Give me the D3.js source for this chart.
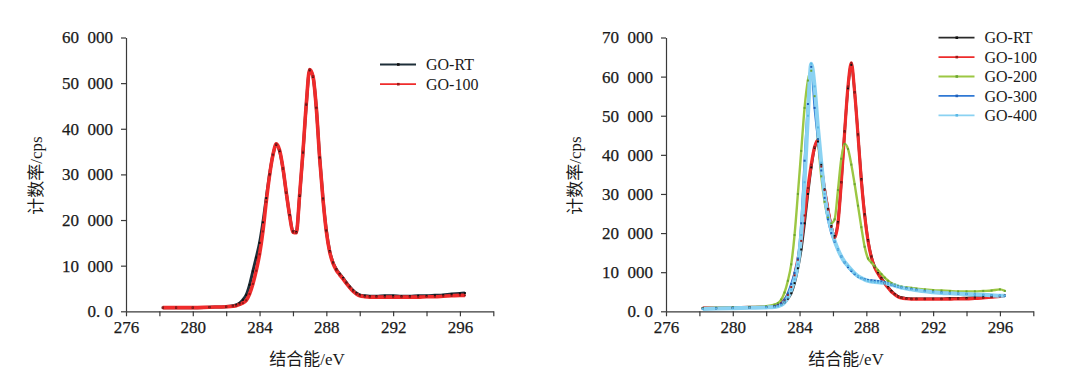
<!DOCTYPE html>
<html>
<head>
  <meta charset="UTF-8">
  <title>XPS C1s</title>
  <style>
    body { margin: 0; background: #fff; }
    text { font-family: "Liberation Serif", "Noto Sans CJK SC", serif; fill: #1a1a1a; }
  </style>
</head>
<body>
<svg id="chart"></svg>
<script src="https://d3js.org/d3.v7.min.js"></script>
<script>

// binding energy grids (eV) and count rates (thousands of cps)
var leftEnergy = [278.2, 279, 280, 281, 282,
  282.4, 282.6, 282.8, 283.0, 283.2, 283.4, 283.6, 283.8, 284.0, 284.2, 284.4, 284.6, 284.8, 285.0, 285.2,
  285.4, 285.6, 285.8, 286.0, 286.2, 286.4, 286.6, 286.8, 287.0, 287.2, 287.4, 287.6, 287.8, 288.0, 288.2,
  288.4, 288.6, 288.8, 289.0, 289.2, 289.4, 289.6, 289.8, 290.0,
  290.3, 290.6, 291, 291.5, 292, 292.5, 293, 293.5, 294, 294.5, 295, 295.5, 296, 296.3]

var leftGoRT = [0.8, 0.8, 0.8, 0.9, 1.0,
  1.2, 1.4, 1.8, 2.5, 3.6, 5.8, 8.8, 11.8, 15.0, 19.5, 24.8, 30.0, 34.3, 36.5, 35.1,
  31.3, 26.0, 21.1, 17.5, 17.4, 25.3, 34.8, 45.3, 52.8, 51.4, 44.6, 33.7, 24.7, 17.7, 13.2,
  10.7, 9.2, 8.2, 7.3, 6.3, 5.4, 4.6, 4.0, 3.6,
  3.4, 3.3, 3.3, 3.4, 3.4, 3.3, 3.3, 3.4, 3.4, 3.5, 3.6, 3.8, 3.9, 4.0]

var leftGo100 = [0.8, 0.8, 0.8, 0.9, 1.0,
  1.1, 1.2, 1.5, 1.8, 2.4, 3.8, 6.0, 8.9, 12.5, 17.5, 24.0, 29.8, 34.2, 36.7, 35.3,
  31.4, 26.0, 21.0, 17.3, 17.2, 25.5, 35.0, 45.5, 53.0, 51.5, 44.5, 33.5, 24.5, 17.5, 13.0,
  10.5, 9.0, 8.0, 7.1, 6.1, 5.2, 4.4, 3.8, 3.4,
  3.2, 3.1, 3.1, 3.1, 3.1, 3.1, 3.1, 3.1, 3.2, 3.2, 3.3, 3.4, 3.5, 3.5]

var rightEnergy = [278.2, 279, 280, 281, 282,
  282.5, 282.7, 282.9, 283.1, 283.3, 283.5, 283.7, 283.9, 284.1, 284.3, 284.5, 284.7, 284.9, 285.1, 285.3,
  285.5, 285.7, 285.9, 286.1, 286.3, 286.5, 286.7, 286.9, 287.1, 287.3, 287.5, 287.7, 287.9, 288.1, 288.3,
  288.5, 288.7, 288.9, 289.1, 289.3, 289.5, 289.7, 289.9, 290.1,
  290.4, 290.7, 291, 291.5, 292, 292.5, 293, 293.5, 294, 294.5, 295, 295.5, 296, 296.3]

var rightGoRT = [0.8, 0.8, 0.9, 1.0, 1.1,
  1.3, 1.5, 1.8, 2.3, 3.2, 4.6, 7.2, 11.0, 15.8, 22.5, 30.0, 36.8, 41.8, 43.4, 37.5,
  31.2, 26.2, 21.8, 19.3, 22.8, 33.0, 46.0, 57.0, 63.0, 56.0, 45.2, 33.8, 24.8, 18.2, 14.0,
  11.4, 9.8, 8.5, 7.3, 6.2, 5.2, 4.4, 3.8, 3.5,
  3.3, 3.2, 3.2, 3.2, 3.2, 3.2, 3.3, 3.3, 3.4, 3.5, 3.6, 3.7, 3.9, 4.0]

var rightGo100 = [0.8, 0.8, 0.9, 1.0, 1.1,
  1.3, 1.6, 2.1, 2.9, 4.2, 6.2, 9.2, 13.2, 18.0, 24.5, 31.5, 37.5, 42.0, 43.8, 37.0,
  31.0, 26.0, 21.5, 18.8, 22.5, 33.0, 45.8, 57.5, 63.5, 56.0, 45.0, 33.5, 24.5, 18.0, 13.8,
  11.2, 9.6, 8.3, 7.1, 6.0, 5.0, 4.3, 3.7, 3.4,
  3.2, 3.1, 3.1, 3.1, 3.1, 3.1, 3.1, 3.2, 3.2, 3.3, 3.4, 3.6, 3.8, 4.0]

var rightGo200 = [0.8, 0.9, 1.0, 1.1, 1.3,
  1.7, 2.1, 3.0, 4.8, 7.8, 12.0, 19.5, 30.0, 41.0, 52.0, 59.0, 61.5, 55.0, 44.0, 34.5,
  28.0, 24.0, 22.5, 23.5, 31.0, 39.0, 42.8, 41.5, 37.5, 32.5, 27.0, 21.5, 16.5, 13.5, 12.5,
  11.5, 10.5, 9.5, 8.6, 7.8, 7.2, 6.8, 6.5, 6.3,
  6.1, 6.0, 5.8, 5.6, 5.4, 5.3, 5.2, 5.1, 5.1, 5.1, 5.2, 5.3, 5.6, 5.2]

var rightGo300 = [0.7, 0.8, 0.9, 1.0, 1.1,
  1.3, 1.5, 2.0, 3.0, 4.6, 7.0, 9.8, 13.5, 22.5, 38.5, 53.0, 62.5, 52.0, 44.0, 36.0,
  29.0, 23.5, 20.0, 17.8, 15.8, 14.0, 12.5, 11.3, 10.3, 9.5, 8.9, 8.5, 8.2, 8.0, 7.9,
  7.8, 7.7, 7.6, 7.4, 7.1, 6.8, 6.5, 6.3, 6.1,
  5.9, 5.7, 5.5, 5.2, 5.0, 4.8, 4.6, 4.5, 4.4, 4.3, 4.2, 4.1, 4.0, 4.0]

var rightGo400 = [0.6, 0.7, 0.8, 0.9, 1.0,
  1.1, 1.3, 1.6, 2.3, 3.5, 5.5, 8.2, 12.0, 19.5, 33.0, 50.0, 63.3, 57.5, 47.0, 38.0,
  30.0, 24.5, 21.0, 18.0, 15.8, 14.0, 12.6, 11.6, 10.6, 9.7, 9.0, 8.5, 8.1, 7.8, 7.6,
  7.5, 7.4, 7.3, 7.2, 7.0, 6.8, 6.6, 6.3, 6.1,
  5.8, 5.6, 5.4, 5.1, 4.9, 4.7, 4.6, 4.5, 4.4, 4.3, 4.2, 4.1, 4.0, 4.0]

var xTickValues = [276, 278, 280, 282, 284, 286, 288, 290, 292, 294, 296, 298]
var xTickLabels = [276, 280, 284, 288, 292, 296]
var yTicksLeft = [0, 10000, 20000, 30000, 40000, 50000, 60000]
var yTicksRight = [0, 10000, 20000, 30000, 40000, 50000, 60000, 70000]

let width = 1078, height = 384;

let svg = d3.select("#chart")
    .attr("width", width)
    .attr("height", height)

svg.append("rect").attr("width", width).attr("height", height).attr("fill", "white")

function yFormat(d) {
    if (d == 0) return "0. 0"
    return (d / 1000) + "\u2002000"
}

function drawPanel(p) {
    let x = d3.scaleLinear().domain([276, 298]).range([p.left, p.left + 367.3])
    let y = d3.scaleLinear().domain([0, p.yMax]).range([311.3, 37.5])
    let g = svg.append("g")

    // axes
    g.append("g")
        .attr("transform", "translate(0,311.3)")
        .call(d3.axisBottom(x)
            .tickValues(xTickValues)
            .tickSize(5)
            .tickSizeOuter(0)
            .tickPadding(5)
            .tickFormat(d => xTickLabels.indexOf(d) >= 0 ? d : ""))
    g.append("g")
        .attr("transform", "translate(" + p.left + ",0)")
        .call(d3.axisLeft(y)
            .tickValues(p.yTicks)
            .tickSize(5)
            .tickSizeOuter(0)
            .tickPadding(8)
            .tickFormat(yFormat))
    g.selectAll(".domain, .tick line").attr("stroke", "#3a3a3a").attr("stroke-width", 1.2)
    g.selectAll(".tick text")
        .style("font-family", '"Liberation Serif", serif')
        .style("font-size", "17px")
        .attr("fill", "#1a1a1a")
        .attr("stroke", "#1a1a1a")
        .attr("stroke-width", 0.25)

    // axis titles
    g.append("text")
        .attr("transform", "translate(" + p.yTitleX + ",175.5) rotate(-90)")
        .attr("text-anchor", "middle")
        .attr("dy", "0.35em")
        .style("font-size", "17px")
        .text("计数率/cps")
    g.append("text")
        .attr("x", p.xTitleX)
        .attr("y", 359.5)
        .attr("text-anchor", "middle")
        .attr("dy", "0.35em")
        .style("font-size", "17px")
        .text("结合能/eV")

    // curves
    let line = d3.line()
        .x(d => x(d[0]))
        .y(d => y(d[1] * 1000))
        .curve(d3.curveMonotoneX)

    p.series.forEach(s => {
        s.points = p.energy.map((e, i) => [e, s.values[i]])
        g.append("path")
            .datum(s.points)
            .attr("fill", "none")
            .attr("stroke", s.color)
            .attr("stroke-width", s.width)
            .attr("stroke-linejoin", "round")
            .attr("d", line)
    })
    p.series.forEach(s => {
        g.append("g")
            .selectAll("rect")
            .data(s.points)
            .enter()
            .append("rect")
            .attr("x", d => x(d[0]) - 1)
            .attr("y", d => y(d[1] * 1000) - 1)
            .attr("width", 2)
            .attr("height", 2)
            .attr("fill", s.marker)
    })

    // legend
    p.series.forEach((s, i) => {
        let ly = p.legendY + i * p.legendStep
        g.append("line")
            .attr("x1", p.legendX).attr("x2", p.legendX + 36)
            .attr("y1", ly).attr("y2", ly)
            .attr("stroke", s.color)
            .attr("stroke-width", 1.8)
        g.append("rect")
            .attr("x", p.legendX + 17).attr("y", ly - 1.3)
            .attr("width", 2.6).attr("height", 2.6)
            .attr("fill", s.marker)
        g.append("text")
            .attr("x", p.legendX + 46)
            .attr("y", ly)
            .attr("dy", "0.35em")
            .style("font-size", "16px")
            .text(s.name)
    })
}

drawPanel({
    left: 126, yMax: 60000, yTicks: yTicksLeft, energy: leftEnergy,
    yTitleX: 36.5, xTitleX: 307,
    legendX: 380, legendY: 64.5, legendStep: 19.7,
    series: [
        {name: "GO-RT", values: leftGoRT, color: "#1d2e38", marker: "#111", width: 3.0},
        {name: "GO-100", values: leftGo100, color: "#ef2b2b", marker: "#9a1a1a", width: 3.6}
    ]
})

drawPanel({
    left: 666, yMax: 70000, yTicks: yTicksRight, energy: rightEnergy,
    yTitleX: 575.5, xTitleX: 846,
    legendX: 938.5, legendY: 37.7, legendStep: 19.4,
    series: [
        {name: "GO-RT", values: rightGoRT, color: "#2a2a2a", marker: "#111", width: 2.6},
        {name: "GO-100", values: rightGo100, color: "#ee2b2b", marker: "#9a1a1a", width: 3.2},
        {name: "GO-200", values: rightGo200, color: "#9cc743", marker: "#6aa532", width: 2.4},
        {name: "GO-300", values: rightGo300, color: "#2f78d4", marker: "#1f5fb8", width: 2.2},
        {name: "GO-400", values: rightGo400, color: "#8ad2f2", marker: "#5bb8e6", width: 4.0}
    ]
})

</script>
</body>
</html>
